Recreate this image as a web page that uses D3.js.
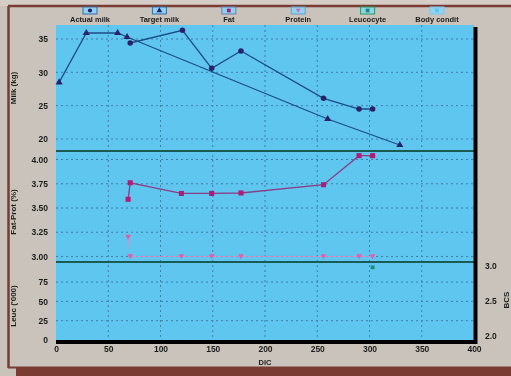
<!DOCTYPE html>
<html>
<head>
<meta charset="utf-8">
<script src="https://cdn.jsdelivr.net/npm/d3@7"></script>
<style>
  body { margin: 0; background: #c8c1b9; }
  text { font-family: "Liberation Sans", Arial, sans-serif; font-weight: bold; fill: #1b1b1b; }
</style>
</head>
<body>
<script>
// series
var legend_names = ["Actual milk", "Target milk", "Fat", "Protein", "Leucocyte", "Body condit"];

var target_dic = [3, 29, 59, 68, 260, 329];
var target_milk = [28.5, 35.9, 35.9, 35.3, 23.0, 19.1];

var actual_dic = [71, 121, 149, 177, 256, 290, 303];
var actual_milk = [34.4, 36.3, 30.6, 33.2, 26.1, 24.5, 24.5];

var fat_dic = [69, 71, 120, 149, 177, 256, 290, 303];
var fat = [3.59, 3.76, 3.65, 3.65, 3.655, 3.74, 4.04, 4.04];

var prot_dic = [69, 71, 120, 149, 177, 256, 290, 303];
var protein = [3.20, 3.00, 3.00, 3.00, 3.00, 3.00, 3.00, 3.00];

var leuc_dic = [303];
var leucocyte = [94];

var x_ticks = [0, 50, 100, 150, 200, 250, 300, 350, 400];
var milk_ticks = [20, 25, 30, 35];
var pct_ticks = [3.00, 3.25, 3.50, 3.75, 4.00];
var leuc_ticks = [0, 25, 50, 75];
var bcs_ticks = [2.0, 2.5, 3.0];

var W = 511, H = 376;

var svg = d3.select("body")
    .append("svg")
    .attr("width", W)
    .attr("height", H);

var defs = svg.append("defs");
defs.append("filter").attr("id", "soft")
    .append("feGaussianBlur").attr("stdDeviation", 0.35);

var g = svg.append("g").attr("filter", "url(#soft)");

// photo frame
g.append("rect").attr("x", 0).attr("y", 0).attr("width", W).attr("height", H).attr("fill", "#cac3bb");
g.append("rect").attr("x", 0).attr("y", 0).attr("width", W).attr("height", 6).attr("fill", "#d4cec6");
g.append("line").attr("x1", 8).attr("x2", W).attr("y1", 6).attr("y2", 6)
    .attr("stroke", "#7a3a33").attr("stroke-width", 2.5);
g.append("line").attr("x1", 8.5).attr("x2", 8.5).attr("y1", 6).attr("y2", 368)
    .attr("stroke", "#7a3a33").attr("stroke-width", 2.5);
g.append("line").attr("x1", 8).attr("x2", W).attr("y1", 367.5).attr("y2", 367.5)
    .attr("stroke", "#7a3a33").attr("stroke-width", 2);
g.append("rect").attr("x", 16).attr("y", 368).attr("width", W - 16).attr("height", 8).attr("fill", "#7a3a33");

var x = d3.scaleLinear().domain([0, 400]).range([56, 474]);
var y_milk = d3.scaleLinear().domain([18.2, 37.1]).range([151, 25]);
var y_pct = d3.scaleLinear().domain([2.943, 4.088]).range([262, 151]);
var y_leuc = d3.scaleLinear().domain([0, 100.9]).range([340, 262]);
var y_bcs = d3.scaleLinear().domain([1.943, 3.057]).range([340, 262]);

// plot background
g.append("rect").attr("x", 56).attr("y", 25).attr("width", 418).attr("height", 317)
    .attr("fill", "#5fc6f0");

var grid_col = "#3f7fa6";

// vertical grid
g.append("g").selectAll("line")
    .data(x_ticks.slice(1, -1))
    .enter().append("line")
    .attr("x1", function (d) { return x(d); })
    .attr("x2", function (d) { return x(d); })
    .attr("y1", 25).attr("y2", 340)
    .attr("stroke", grid_col).attr("stroke-width", 1)
    .attr("stroke-dasharray", "2,3");

function hgrid(scale, ticks) {
    g.append("g").selectAll("line")
        .data(ticks)
        .enter().append("line")
        .attr("x1", 56).attr("x2", 474)
        .attr("y1", function (d) { return scale(d); })
        .attr("y2", function (d) { return scale(d); })
        .attr("stroke", grid_col).attr("stroke-width", 1)
        .attr("stroke-dasharray", "2,3");
}
hgrid(y_milk, milk_ticks);
hgrid(y_pct, pct_ticks);
hgrid(y_leuc, leuc_ticks.slice(1));

// panel separators
g.append("line").attr("x1", 56).attr("x2", 474).attr("y1", 151).attr("y2", 151)
    .attr("stroke", "#1f5a55").attr("stroke-width", 2);
g.append("line").attr("x1", 56).attr("x2", 474).attr("y1", 262).attr("y2", 262)
    .attr("stroke", "#1f5a55").attr("stroke-width", 2);

// left axes: no domain line, labels only
function leftAxis(scale, ticks, fmt) {
    var ax = g.append("g")
        .attr("transform", "translate(56,0)")
        .call(d3.axisLeft(scale).tickValues(ticks).tickFormat(d3.format(fmt)).tickSize(0).tickPadding(8));
    ax.select(".domain").remove();
    ax.selectAll("text").attr("font-size", 8.5).style("font-weight", "bold");
}
leftAxis(y_milk, milk_ticks, "d");
leftAxis(y_pct, pct_ticks, ".2f");
leftAxis(y_leuc, leuc_ticks, "d");

var ax_r = g.append("g")
    .attr("transform", "translate(478,0)")
    .call(d3.axisRight(y_bcs).tickValues(bcs_ticks).tickFormat(d3.format(".1f")).tickSize(0).tickPadding(7));
ax_r.select(".domain").remove();
ax_r.selectAll("text").attr("font-size", 8.5).style("font-weight", "bold");

var ax_x = g.append("g")
    .attr("transform", "translate(0,341)")
    .call(d3.axisBottom(x).tickValues(x_ticks).tickFormat(d3.format("d")).tickSize(0).tickPadding(5));
ax_x.select(".domain").remove();
ax_x.selectAll("text").attr("font-size", 8.5).style("font-weight", "bold");

g.append("text").attr("x", x(200)).attr("y", 365).attr("text-anchor", "middle")
    .attr("font-size", 7.5).text("DIC");

// black frame on right and bottom
g.append("line").attr("x1", 56).attr("x2", 477).attr("y1", 342).attr("y2", 342)
    .attr("stroke", "#050505").attr("stroke-width", 4);
g.append("line").attr("x1", 475.5).attr("x2", 475.5).attr("y1", 27).attr("y2", 344)
    .attr("stroke", "#050505").attr("stroke-width", 4);

// axis titles
function vtitle(txt, tx, ty) {
    g.append("text")
        .attr("transform", "translate(" + tx + "," + ty + ") rotate(-90)")
        .attr("text-anchor", "middle")
        .attr("font-size", 8)
        .text(txt);
}
vtitle("Milk (kg)", 16, 88);
vtitle("Fat-Prot (%)", 16, 212);
vtitle("Leuc ('000)", 16, 306);
vtitle("BCS", 509, 300);

// series
function series(xs, ys, sy, lineCol, lineW, markCol, sym, size) {
    var pts = xs.map(function (d, i) { return [x(d), sy(ys[i])]; });
    g.append("path")
        .datum(pts)
        .attr("fill", "none")
        .attr("stroke", lineCol)
        .attr("stroke-width", lineW)
        .attr("d", d3.line());
    g.append("g").selectAll("path")
        .data(pts)
        .enter().append("path")
        .attr("transform", function (d) { return "translate(" + d[0] + "," + d[1] + ")"; })
        .attr("d", d3.symbol().type(sym).size(size))
        .attr("fill", markCol);
}

var tri_down = {
    draw: function (ctx, s) {
        var r = Math.sqrt(s) * 0.6;
        ctx.moveTo(-r, -r * 0.8);
        ctx.lineTo(r, -r * 0.8);
        ctx.lineTo(0, r);
        ctx.closePath();
    }
};

series(target_dic, target_milk, y_milk, "#1f4e86", 1.3, "#2b2468", d3.symbolTriangle, 22);
series(actual_dic, actual_milk, y_milk, "#1f4e86", 1.3, "#2b2468", d3.symbolCircle, 24);
series(prot_dic, protein, y_pct, "#e58ac0", 0.8, "#e25fa8", tri_down, 22);
series(fat_dic, fat, y_pct, "#8a3f86", 1.3, "#b01e74", d3.symbolSquare, 26);
series(leuc_dic, leucocyte, y_leuc, "#1b8a74", 1, "#1b8a74", d3.symbolSquare, 14);

// legend
var lx = d3.scalePoint().domain(legend_names).range([90, 437]);
var leg_marks = {
    "Actual milk": ["#2b2468", d3.symbolCircle, "#3c6aa0"],
    "Target milk": ["#2b2468", d3.symbolTriangle, "#3c6aa0"],
    "Fat": ["#b01e74", d3.symbolSquare, "#6a7fb0"],
    "Protein": ["#e25fa8", tri_down, "#6a9fd0"],
    "Leucocyte": ["#1b8a74", d3.symbolSquare, "#2a9a5a"],
    "Body condit": ["#62c5ee", d3.symbolSquare, "#7fc8ee"]
};

var leg = g.append("g").selectAll("g")
    .data(legend_names)
    .enter().append("g")
    .attr("transform", function (d) { return "translate(" + lx(d) + ",0)"; });

leg.append("rect")
    .attr("x", -7).attr("y", 7).attr("width", 14).attr("height", 7)
    .attr("fill", "#8ed3f2")
    .attr("stroke", function (d) { return leg_marks[d][2]; })
    .attr("stroke-width", 1);
leg.append("path")
    .attr("transform", "translate(0,10.5)")
    .attr("d", function (d) { return d3.symbol().type(leg_marks[d][1]).size(14)(); })
    .attr("fill", function (d) { return leg_marks[d][0]; });
leg.append("text")
    .attr("y", 22)
    .attr("text-anchor", "middle")
    .attr("font-size", 7.5)
    .text(function (d) { return d; });
</script>
</body>
</html>
